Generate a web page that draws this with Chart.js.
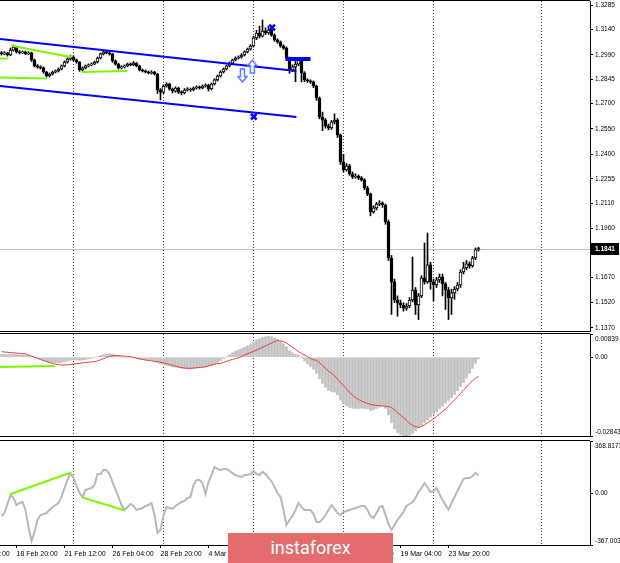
<!DOCTYPE html>
<html>
<head>
<meta charset="utf-8">
<script src="https://cdn.jsdelivr.net/npm/chart.js@4.4.0/dist/chart.umd.min.js"></script>
<style>
html,body{margin:0;padding:0;background:#fff;}
body{position:relative;width:620px;height:563px;overflow:hidden;}
canvas{position:absolute;left:0;}
#c1{top:0;} #c2{top:333px;} #c3{top:438px;}
#wm{position:absolute;left:228px;top:533px;width:165px;height:30px;background:#e26b6b;color:#fff;font-family:Roboto,'Open Sans',sans-serif;font-size:18px;line-height:30px;text-align:center;z-index:5;}
</style>
</head>
<body>
<canvas id="c1" width="620" height="333"></canvas>
<canvas id="c2" width="620" height="105"></canvas>
<canvas id="c3" width="620" height="125"></canvas>
<div id="wm">instaforex</div>
<script>
// ---------- data ----------
const opens = [1.3001,1.2995,1.3001,1.2989,1.3018,1.3036,1.3007,1.3001,1.3007,1.2995,
 1.3001,1.2959,1.2924,1.2918,1.2912,1.2888,1.2864,1.2876,1.2888,1.2894,
 1.2906,1.2924,1.2947,1.2965,1.2977,1.2959,1.2947,1.2900,1.2912,1.2924,
 1.2930,1.2935,1.2947,1.2971,1.2995,1.3007,1.3001,1.2995,1.2953,1.2935,
 1.2912,1.2918,1.2924,1.2935,1.2930,1.2941,1.2924,1.2900,1.2894,1.2888,
 1.2882,1.2888,1.2876,1.2781,1.2769,1.2805,1.2817,1.2787,1.2775,1.2793,
 1.2769,1.2764,1.2781,1.2787,1.2781,1.2793,1.2799,1.2793,1.2805,1.2811,
 1.2787,1.2817,1.2841,1.2864,1.2888,1.2906,1.2924,1.2941,1.2959,1.2971,
 1.2977,1.2989,1.3007,1.3024,1.3042,1.3090,1.3119,1.3101,1.3131,1.3119,
 1.3137,1.3107,1.3078,1.3066,1.3042,1.3030,1.2971,1.2900,1.2918,1.2935,
 1.2959,1.2882,1.2841,1.2835,1.2829,1.2805,1.2734,1.2621,1.2603,1.2568,
 1.2556,1.2592,1.2603,1.2515,1.2354,1.2307,1.2331,1.2283,1.2265,1.2271,
 1.2260,1.2248,1.2200,1.2165,1.2058,1.2082,1.2105,1.2111,1.2099,1.1999,
 1.1785,1.1643,1.1536,1.1518,1.1506,1.1488,1.1500,1.1536,1.1595,1.1506,
 1.1560,1.1667,1.1643,1.1744,1.1643,1.1625,1.1655,1.1672,1.1631,1.1595,
 1.1548,1.1578,1.1601,1.1625,1.1702,1.1726,1.1750,1.1738,1.1785,1.1833];
const highs = [1.3010,1.3008,1.3005,1.3030,1.3048,1.3040,1.3015,1.3013,1.3012,1.3008,
 1.3006,1.2965,1.2932,1.2925,1.2918,1.2892,1.2882,1.2894,1.2900,1.2912,
 1.2930,1.2953,1.2972,1.2985,1.2983,1.2965,1.2950,1.2918,1.2930,1.2936,
 1.2942,1.2953,1.2977,1.3001,1.3015,1.3012,1.3007,1.2998,1.2960,1.2940,
 1.2925,1.2930,1.2941,1.2942,1.2950,1.2945,1.2928,1.2906,1.2900,1.2894,
 1.2896,1.2892,1.2880,1.2790,1.2812,1.2825,1.2822,1.2793,1.2800,1.2798,
 1.2776,1.2790,1.2795,1.2793,1.2800,1.2806,1.2805,1.2812,1.2818,1.2815,
 1.2823,1.2848,1.2870,1.2895,1.2912,1.2930,1.2948,1.2965,1.2978,1.2984,
 1.2996,1.3013,1.3030,1.3050,1.3100,1.3135,1.3160,1.3196,1.3150,1.3160,
 1.3145,1.3115,1.3085,1.3072,1.3050,1.3036,1.2977,1.2930,1.2950,1.2968,
 1.2965,1.2890,1.2848,1.2842,1.2835,1.2810,1.2740,1.2650,1.2612,1.2580,
 1.2600,1.2640,1.2612,1.2520,1.2400,1.2345,1.2340,1.2295,1.2285,1.2278,
 1.2268,1.2255,1.2210,1.2170,1.2095,1.2115,1.2125,1.2118,1.2105,1.2010,
 1.1800,1.1660,1.1560,1.1535,1.1520,1.1515,1.1550,1.1791,1.1610,1.1575,
 1.1680,1.1874,1.1933,1.1760,1.1660,1.1670,1.1690,1.1690,1.1640,1.1610,
 1.1600,1.1615,1.1640,1.1715,1.1760,1.1770,1.1762,1.1795,1.1845,1.1848];
const lows = [1.2988,1.2990,1.2982,1.2985,1.3012,1.3000,1.2995,1.2996,1.2990,1.2990,
 1.2950,1.2918,1.2910,1.2905,1.2880,1.2858,1.2858,1.2870,1.2882,1.2888,
 1.2900,1.2918,1.2940,1.2958,1.2952,1.2940,1.2892,1.2894,1.2906,1.2918,
 1.2924,1.2930,1.2941,1.2965,1.2989,1.2995,1.2988,1.2945,1.2928,1.2905,
 1.2906,1.2912,1.2918,1.2924,1.2925,1.2918,1.2894,1.2888,1.2882,1.2876,
 1.2876,1.2870,1.2760,1.2722,1.2760,1.2798,1.2780,1.2764,1.2768,1.2760,
 1.2752,1.2758,1.2775,1.2772,1.2776,1.2787,1.2786,1.2788,1.2798,1.2775,
 1.2781,1.2811,1.2835,1.2858,1.2882,1.2900,1.2918,1.2935,1.2953,1.2965,
 1.2970,1.2983,1.3001,1.3018,1.3036,1.3080,1.3090,1.3095,1.3110,1.3112,
 1.3100,1.3070,1.3058,1.3035,1.3022,1.2963,1.2880,1.2890,1.2830,1.2925,
 1.2829,1.2830,1.2826,1.2820,1.2795,1.2720,1.2610,1.2540,1.2555,1.2545,
 1.2548,1.2580,1.2500,1.2340,1.2295,1.2300,1.2275,1.2255,1.2258,1.2250,
 1.2240,1.2190,1.2155,1.2035,1.2050,1.2070,1.2095,1.2085,1.1985,1.1770,
 1.1450,1.1520,1.1440,1.1490,1.1470,1.1475,1.1490,1.1525,1.1450,1.1420,
 1.1550,1.1630,1.1635,1.1600,1.1530,1.1610,1.1640,1.1560,1.1480,1.1420,
 1.1450,1.1540,1.1590,1.1610,1.1690,1.1715,1.1725,1.1730,1.1775,1.1826];
const closes = [1.2995,1.3001,1.2989,1.3018,1.3036,1.3007,1.3001,1.3007,1.2995,1.3001,
 1.2959,1.2924,1.2918,1.2912,1.2888,1.2864,1.2876,1.2888,1.2894,1.2906,
 1.2924,1.2947,1.2965,1.2977,1.2959,1.2947,1.2900,1.2912,1.2924,1.2930,
 1.2935,1.2947,1.2971,1.2995,1.3007,1.3001,1.2995,1.2953,1.2935,1.2912,
 1.2918,1.2924,1.2935,1.2930,1.2941,1.2924,1.2900,1.2894,1.2888,1.2882,
 1.2888,1.2876,1.2781,1.2769,1.2805,1.2817,1.2787,1.2775,1.2793,1.2769,
 1.2764,1.2781,1.2787,1.2781,1.2793,1.2799,1.2793,1.2805,1.2811,1.2787,
 1.2817,1.2841,1.2864,1.2888,1.2906,1.2924,1.2941,1.2959,1.2971,1.2977,
 1.2989,1.3007,1.3024,1.3042,1.3090,1.3119,1.3101,1.3131,1.3119,1.3137,
 1.3107,1.3078,1.3066,1.3042,1.3030,1.2971,1.2900,1.2918,1.2935,1.2959,
 1.2882,1.2841,1.2835,1.2829,1.2805,1.2734,1.2621,1.2603,1.2568,1.2556,
 1.2592,1.2603,1.2515,1.2354,1.2307,1.2331,1.2283,1.2265,1.2271,1.2260,
 1.2248,1.2200,1.2165,1.2058,1.2082,1.2105,1.2111,1.2099,1.1999,1.1785,
 1.1643,1.1536,1.1518,1.1506,1.1488,1.1500,1.1536,1.1595,1.1506,1.1560,
 1.1667,1.1643,1.1744,1.1643,1.1625,1.1655,1.1672,1.1631,1.1595,1.1548,
 1.1578,1.1601,1.1625,1.1702,1.1726,1.1750,1.1738,1.1785,1.1833,1.1841];
const macdHist = [0.0010,0.0010,0.0009,0.0010,0.0011,0.0010,0.0009,0.0009,0.0008,0.0007,
 0.0004,0.0000,-0.0004,-0.0008,-0.0012,-0.0016,-0.0018,-0.0019,-0.0020,-0.0020,
 -0.0019,-0.0017,-0.0014,-0.0011,-0.0010,-0.0009,-0.0011,-0.0010,-0.0008,-0.0006,
 -0.0004,-0.0002,0.0002,0.0006,0.0010,0.0012,0.0013,0.0011,0.0008,0.0004,
 0.0001,-0.0001,-0.0002,-0.0002,-0.0002,-0.0004,-0.0006,-0.0008,-0.0009,-0.0010,
 -0.0011,-0.0012,-0.0018,-0.0024,-0.0027,-0.0029,-0.0032,-0.0035,-0.0036,-0.0038,
 -0.0040,-0.0041,-0.0041,-0.0041,-0.0040,-0.0039,-0.0038,-0.0036,-0.0034,-0.0033,
 -0.0030,-0.0025,-0.0019,-0.0012,-0.0005,0.0002,0.0009,0.0016,0.0022,0.0027,
 0.0031,0.0036,0.0041,0.0046,0.0055,0.0063,0.0067,0.0072,0.0074,0.0076,
 0.0074,0.0070,0.0064,0.0057,0.0049,0.0038,0.0024,0.0016,0.0011,0.0008,
 -0.0003,-0.0014,-0.0024,-0.0033,-0.0043,-0.0058,-0.0078,-0.0094,-0.0109,-0.0120,
 -0.0124,-0.0126,-0.0136,-0.0155,-0.0169,-0.0175,-0.0181,-0.0184,-0.0185,-0.0185,
 -0.0184,-0.0185,-0.0186,-0.0192,-0.0190,-0.0185,-0.0180,-0.0176,-0.0184,-0.0208,
 -0.0236,-0.0258,-0.0272,-0.0280,-0.0284,-0.0284,-0.0282,-0.0275,-0.0266,-0.0256,
 -0.0246,-0.0236,-0.0226,-0.0216,-0.0206,-0.0196,-0.0186,-0.0176,-0.0166,-0.0156,
 -0.0146,-0.0134,-0.0121,-0.0106,-0.0092,-0.0075,-0.0058,-0.0040,-0.0022,-0.0006];
const macdSignal = [0.0020,0.0019,0.0018,0.0017,0.0016,0.0015,0.0014,0.0014,0.0012,0.0008,
 0.0004,0.0000,-0.0004,-0.0008,-0.0012,-0.0016,-0.0019,-0.0022,-0.0025,-0.0027,
 -0.0028,-0.0028,-0.0027,-0.0026,-0.0024,-0.0023,-0.0022,-0.0020,-0.0019,-0.0018,
 -0.0017,-0.0016,-0.0013,-0.0009,-0.0005,-0.0001,0.0003,0.0005,0.0006,0.0006,
 0.0005,0.0004,0.0003,0.0002,0.0000,-0.0003,-0.0006,-0.0008,-0.0010,-0.0012,
 -0.0013,-0.0015,-0.0016,-0.0018,-0.0020,-0.0023,-0.0026,-0.0029,-0.0032,-0.0035,
 -0.0037,-0.0039,-0.0040,-0.0040,-0.0039,-0.0038,-0.0037,-0.0036,-0.0035,-0.0031,
 -0.0028,-0.0025,-0.0023,-0.0022,-0.0019,-0.0015,-0.0011,-0.0008,-0.0005,-0.0002,
 0.0003,0.0008,0.0012,0.0017,0.0021,0.0026,0.0031,0.0036,0.0041,0.0046,
 0.0051,0.0057,0.0060,0.0059,0.0057,0.0051,0.0043,0.0036,0.0029,0.0020,
 0.0014,0.0008,0.0002,-0.0004,-0.0009,-0.0011,-0.0020,-0.0030,-0.0040,-0.0050,
 -0.0057,-0.0067,-0.0079,-0.0091,-0.0103,-0.0114,-0.0126,-0.0137,-0.0146,-0.0152,
 -0.0158,-0.0163,-0.0167,-0.0170,-0.0172,-0.0174,-0.0175,-0.0176,-0.0177,-0.0178,
 -0.0181,-0.0190,-0.0200,-0.0209,-0.0218,-0.0228,-0.0238,-0.0246,-0.0251,-0.0253,
 -0.0250,-0.0244,-0.0237,-0.0229,-0.0222,-0.0214,-0.0205,-0.0196,-0.0187,-0.0177,
 -0.0166,-0.0154,-0.0143,-0.0131,-0.0119,-0.0107,-0.0096,-0.0085,-0.0076,-0.0070];
const cci = [-162,-141,-77,-13,-34,-84,-70,-63,-119,-240,
 -339,-275,-190,-155,-148,-141,-119,-98,-84,-70,
 -27,36,93,142,107,50,1,-27,22,29,
 36,58,135,135,164,164,135,79,22,-27,
 -84,-119,-98,-77,-91,-119,-112,-105,-91,-84,
 -70,-155,-282,-261,-155,-98,-105,-112,-91,-77,
 -63,-56,-34,-27,58,93,93,72,-6,79,
 128,185,171,164,171,171,157,142,128,121,
 114,128,128,135,157,135,128,150,135,107,
 86,43,1,-27,-119,-226,-190,-162,-119,-70,
 -98,-119,-119,-119,-148,-204,-204,-183,-155,-119,
 -84,-112,-141,-155,-133,-126,-119,-112,-105,-98,
 -91,-91,-119,-162,-176,-141,-98,-91,-155,-218,
 -261,-226,-190,-162,-133,-91,-77,-63,-34,8,
 36,72,43,8,15,36,-6,-49,-84,-119,
 -70,-27,15,58,100,107,107,121,142,128];

const priceTicks = [1.1370,1.1520,1.1670,1.1815,1.1960,1.2110,1.2255,1.2400,1.2550,1.2700,1.2845,1.2990,1.3140,1.3285];
const priceTickLabels = ['1.1370','1.1520','1.1670','1.1815','1.1960','1.2110','1.2255','1.2400','1.2550','1.2700','1.2845','1.2990','1.3140','1.3285'];
const lastPrice = 1.1841;
const lastPriceLabel = '1.1841';
const macdTicks = [0.00839, 0, -0.02843];
const macdTickLabels = ['0.00839','0.00','-0.02843'];
const cciTicks = [368.8171, 0, -367.0034];
const cciTickLabels = ['368.8171','0.00','-367.0034'];
const timeIdx = [-11,5,21,37,53,69,85,101,117,133,149];
const timeLabels = ['14 Feb 04:00','18 Feb 20:00','21 Feb 12:00','26 Feb 04:00','28 Feb 20:00','4 Mar 12:00','9 Mar 04:00','11 Mar 20:00','16 Mar 12:00','19 Mar 04:00','23 Mar 20:00'];
const gridIdx = [24,54,84,114,144,180];

// drawn objects (in data units: bar index, value)
const channelUpper = [{x:-0.5,y:1.3083},{x:98.3,y:1.2894}];
const channelLower = [{x:-0.5,y:1.2805},{x:98.3,y:1.2621}];
const levelLine = [{x:94.7,y:1.2965},{x:103,y:1.2965}];
const crossMarks = [{x:90.2,y:1.3152},{x:84.1,y:1.2623}];
const arrowUpPts = [{x:83.6,y:1.2920}];
const arrowDownPts = [{x:80.3,y:1.2867}];
const greenPrice = [
  [{x:-0.5,y:1.2968},{x:2.2,y:1.2968}],
  [{x:3.4,y:1.3044},{x:23.4,y:1.2975}],
  [{x:-0.5,y:1.2855},{x:15.2,y:1.2849}],
  [{x:26.9,y:1.2888},{x:41.9,y:1.2894}]
];
const greenMacd = [{x:-0.5,y:-0.0035},{x:17.9,y:-0.0032}];
const greenCci = [
  [{x:2.8,y:-8},{x:22.9,y:144}],
  [{x:27.1,y:-32},{x:40.9,y:-121}]
];

// ---------- setup ----------
const XMAX = 590/3 - 0.5;
const FONT = "'Liberation Sans', Arial, sans-serif";
Chart.defaults.font.family = FONT;
Chart.defaults.font.size = 6.5;
Chart.defaults.color = '#000';

const panelPlugin = {
  id: 'panel',
  beforeDatasetsDraw(chart, args, opts) {
    if (opts.priceLine != null) {
      const a = chart.chartArea, ctx = chart.ctx;
      const y = Math.round(chart.scales.y.getPixelForValue(opts.priceLine)) + 0.5;
      ctx.save(); ctx.strokeStyle = '#c4c4c4'; ctx.lineWidth = 1;
      ctx.beginPath(); ctx.moveTo(a.left, y); ctx.lineTo(a.right, y); ctx.stroke(); ctx.restore();
    }
  },
  afterDraw(chart, args, opts) {
    const ctx = chart.ctx, a = chart.chartArea;
    ctx.save();
    ctx.strokeStyle = '#000'; ctx.lineWidth = 1;
    ctx.beginPath();
    ctx.moveTo(0, a.top - 0.5); ctx.lineTo(a.right, a.top - 0.5);
    ctx.moveTo(0, a.bottom + 0.5); ctx.lineTo(a.right, a.bottom + 0.5);
    ctx.stroke();
    if (opts.edgeVals) {
      ctx.fillStyle = '#000'; ctx.font = '6.5px ' + FONT;
      ctx.textBaseline = 'middle'; ctx.textAlign = 'left';
      opts.edgeVals.forEach((v, i) => {
        let y = chart.scales.y.getPixelForValue(v);
        y = Math.max(a.top + 5, Math.min(a.bottom - 4, y));
        ctx.fillText(opts.edgeLabels[i], a.right + 5, y);
      });
    }
    if (opts.priceLine != null) {
      const y = Math.round(chart.scales.y.getPixelForValue(opts.priceLine));
      ctx.fillStyle = '#000';
      ctx.fillRect(a.right + 1, y - 6, 28, 12);
      ctx.fillStyle = '#fff'; ctx.font = 'bold 6.5px ' + FONT;
      ctx.textBaseline = 'middle'; ctx.textAlign = 'left';
      ctx.fillText(opts.priceLabel, a.right + 5, y + 0.5);
    }
    ctx.restore();
  }
};

function zeroPad(s) { s.paddingLeft = 0; s.paddingRight = 0; s.paddingTop = 0; s.paddingBottom = 0; }
function gridX() {
  return {
    type: 'linear', position: 'bottom', min: -0.5, max: XMAX, display: true, offset: false, bounds: 'data',
    afterBuildTicks: s => { s.ticks = gridIdx.map(v => ({value: v})); },
    afterFit: s => { s.height = 0; zeroPad(s); },
    ticks: {display: false},
    grid: {color: '#444', lineWidth: 1, drawTicks: false, drawOnChartArea: true, offset: false},
    border: {display: false, dash: [1, 2]}
  };
}
function rightY(min, max, ticks, labels, showTicks) {
  return {
    type: 'linear', position: 'right', min: min, max: max, beginAtZero: false, grace: 0,
    afterBuildTicks: s => { s.ticks = ticks.map(v => ({value: v})); },
    afterFit: s => { s.width = 30; zeroPad(s); },
    ticks: {display: showTicks, autoSkip: false, padding: 2, color: '#000', font: {size: 6.5},
            callback: (v, i) => labels[i]},
    grid: {drawOnChartArea: false, drawTicks: true, tickLength: 3, color: '#000'},
    border: {display: true, color: '#000', width: 1}
  };
}
const idx = closes.map((_, i) => i);
function opts(padTop, padBottom, scales, panel) {
  return {
    responsive: false, animation: false, events: [],
    layout: {autoPadding: false, padding: {top: padTop, bottom: padBottom, left: 0, right: 0}},
    scales: scales,
    plugins: {legend: {display: false}, tooltip: {enabled: false}, panel: panel}
  };
}
function lineDS(pts, color, width, order) {
  return {type: 'line', data: pts, borderColor: color, borderWidth: width, pointRadius: 0, fill: false, tension: 0, order: order};
}
function arrowImg(up) {
  const c = document.createElement('canvas'); c.width = 11; c.height = 15;
  const g = c.getContext('2d');
  g.strokeStyle = '#5a78ff'; g.lineWidth = 1.5; g.fillStyle = '#fff';
  g.beginPath();
  if (up) {
    g.moveTo(5.5, 1); g.lineTo(10, 6.5); g.lineTo(7.5, 6.5); g.lineTo(7.5, 14); g.lineTo(3.5, 14); g.lineTo(3.5, 6.5); g.lineTo(1, 6.5);
  } else {
    g.moveTo(5.5, 14); g.lineTo(10, 8.5); g.lineTo(7.5, 8.5); g.lineTo(7.5, 1); g.lineTo(3.5, 1); g.lineTo(3.5, 8.5); g.lineTo(1, 8.5);
  }
  g.closePath(); g.fill(); g.stroke();
  return c;
}

// ---------- main price chart ----------
const lime = '#7cf700';
const mainDatasets = [
  {type: 'bar', data: idx.map(i => ({x: i, y: [opens[i], closes[i]]})),
   backgroundColor: ctx => (closes[ctx.dataIndex] >= opens[ctx.dataIndex] ? '#fff' : '#000'),
   borderColor: '#000', borderWidth: 1, borderSkipped: false, barThickness: 3, grouped: false, minBarLength: 1, order: 5},
  {type: 'bar', data: idx.map(i => ({x: i, y: [lows[i], highs[i]]})),
   backgroundColor: '#000', barThickness: 1, grouped: false, order: 6},
  lineDS(channelUpper, '#0000ff', 2, 2),
  lineDS(channelLower, '#0000ff', 2, 2),
  lineDS(levelLine, '#0000ff', 4, 2),
  ...greenPrice.map(g => lineDS(g, lime, 2, 3)),
  {type: 'line', data: crossMarks, showLine: false, pointStyle: 'crossRot', pointRadius: 4,
   pointBorderWidth: 2.5, pointBorderColor: '#0000ff', order: 1},
  {type: 'line', data: arrowUpPts, showLine: false, pointStyle: arrowImg(true), order: 1},
  {type: 'line', data: arrowDownPts, showLine: false, pointStyle: arrowImg(false), order: 1}
];
new Chart(document.getElementById('c1'), {
  type: 'bar',
  data: {datasets: mainDatasets},
  options: opts(1, 2, {x: gridX(), y: rightY(1.1352, 1.3309, priceTicks, priceTickLabels, true)},
                {priceLine: lastPrice, priceLabel: lastPriceLabel}),
  plugins: [panelPlugin]
});

// ---------- MACD ----------
new Chart(document.getElementById('c2'), {
  type: 'bar',
  data: {datasets: [
    {type: 'bar', data: idx.map(i => ({x: i, y: macdHist[i]})), backgroundColor: '#c0c0c0',
     barThickness: 2, grouped: false, order: 5},
    lineDS(idx.map(i => ({x: i, y: macdSignal[i]})), '#f23c3c', 1, 2),
    lineDS(greenMacd, lime, 2, 1)
  ]},
  options: opts(1, 2, {x: gridX(), y: rightY(-0.02843, 0.00839, macdTicks, macdTickLabels, false)},
                {edgeVals: macdTicks, edgeLabels: macdTickLabels}),
  plugins: [panelPlugin]
});

// ---------- CCI ----------
new Chart(document.getElementById('c3'), {
  type: 'line',
  data: {datasets: [
    lineDS(idx.map(i => ({x: i, y: cci[i]})), '#b8b8b8', 2, 3),
    ...greenCci.map(g => lineDS(g, lime, 2, 1))
  ]},
  options: opts(3, 0, {
      x: gridX(),
      x2: {
        type: 'linear', position: 'bottom', min: -0.5, max: XMAX, offset: false, bounds: 'data',
        afterBuildTicks: s => { s.ticks = timeIdx.map(v => ({value: v})); },
        afterFit: s => { s.height = 18; zeroPad(s); },
        ticks: {autoSkip: false, maxRotation: 0, minRotation: 0, align: 'start', color: '#000',
                font: {size: 7}, padding: 2, callback: (v, i) => timeLabels[i]},
        grid: {drawOnChartArea: false, drawTicks: true, tickLength: 3, color: '#000', offset: false},
        border: {display: false}
      },
      y: rightY(-367.0034, 368.8171, cciTicks, cciTickLabels, false)
    },
    {edgeVals: cciTicks, edgeLabels: cciTickLabels}),
  plugins: [panelPlugin]
});
</script>
</body>
</html>
